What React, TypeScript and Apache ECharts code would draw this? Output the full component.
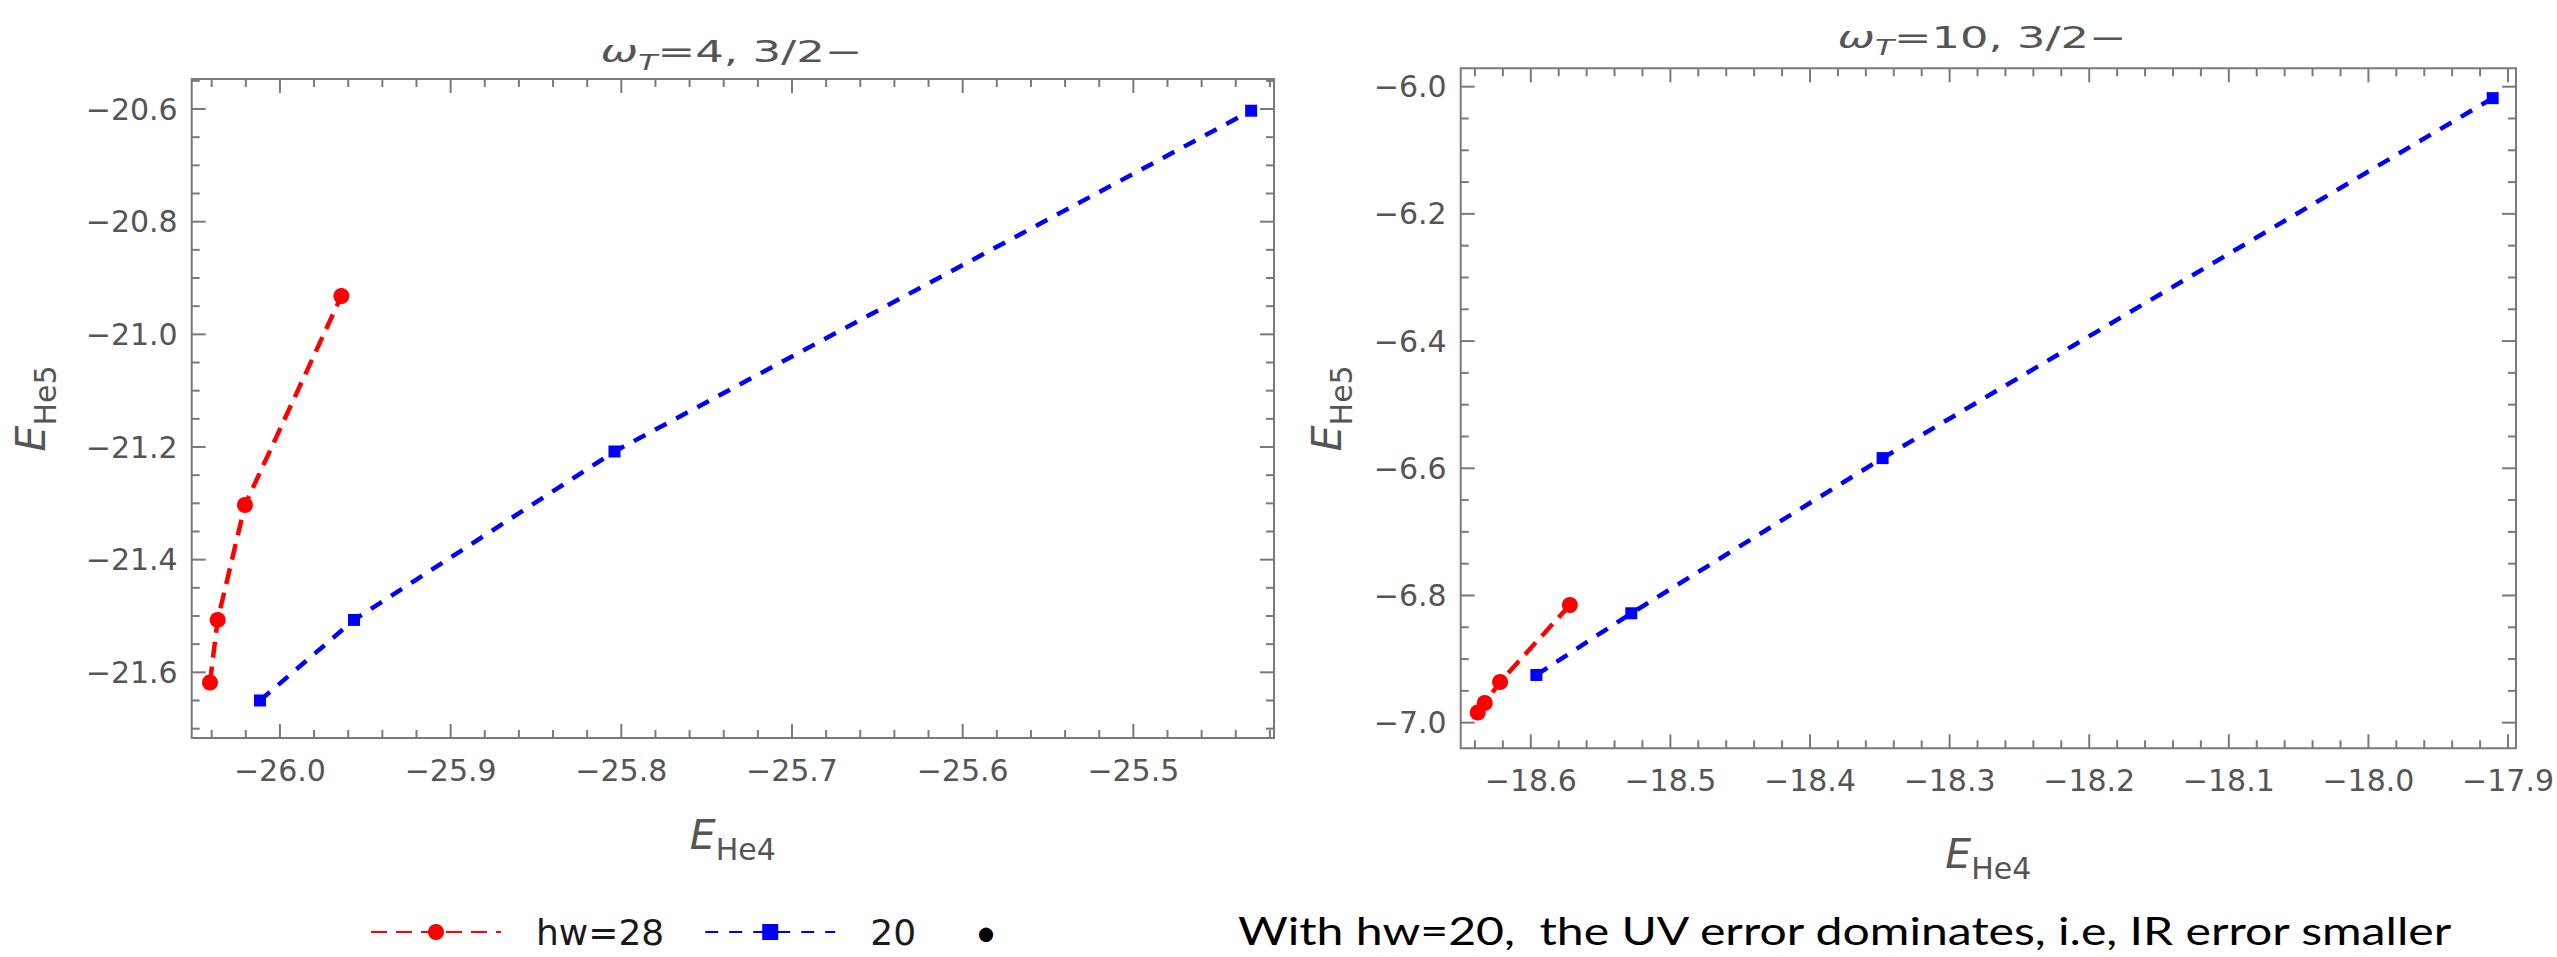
import React, { useEffect, useRef } from "react";
import * as echarts from "echarts";

// ---------------- data ----------------
const leftRedX = [-26.041, -26.0365, -26.0205, -25.964];
const leftRedY = [-21.618, -21.507, -21.303, -20.932];
const leftBlueX = [-26.0117, -25.9566, -25.804, -25.431];
const leftBlueY = [-21.65, -21.507, -21.208, -20.603];

const rightRedX = [-18.638, -18.633, -18.622, -18.572];
const rightRedY = [-6.984, -6.969, -6.936, -6.815];
const rightBlueX = [-18.596, -18.528, -18.348, -17.911];
const rightBlueY = [-6.925, -6.828, -6.584, -6.018];

const leftXTicks = [-26.0, -25.9, -25.8, -25.7, -25.6, -25.5];
const leftYTicks = [-21.6, -21.4, -21.2, -21.0, -20.8, -20.6];
const rightXTicks = [-18.6, -18.5, -18.4, -18.3, -18.2, -18.1, -18.0, -17.9];
const rightYTicks = [-7.0, -6.8, -6.6, -6.4, -6.2, -6.0];

const leftXRange = [-26.0517, -25.4176];
const leftYRange = [-21.7166, -20.5467];
const rightXRange = [-18.6502, -17.8943];
const rightYRange = [-7.0403, -5.9711];

const seriesNames = ["hw=28", "20"];
const panelOmegas = ["4", "10"];
const stateLabel = "3/2−";
const bulletText = "With hw=20,  the UV error dominates, i.e, IR error smaller";

// ---------------- style / layout ----------------
const W = 2557;
const H = 957;
const FONT = "DejaVu Sans";
const GRAY = "#555555";
const FRAME = "#7a7a7a";
const RED = "#ff0000";
const BLUE = "#0000ff";

const grids = [
  { left: 191.7, top: 79, width: 1082.3, height: 659 },
  { left: 1460.7, top: 68.3, width: 1055.3, height: 680 },
];

function zip(xs: number[], ys: number[]) {
  return xs.map((x, i) => [x, ys[i]]);
}

function minorTicks(range: number[], step: number, majors: number[]) {
  const out: number[] = [];
  const start = Math.ceil(range[0] / step - 1e-9);
  for (let k = start; k * step <= range[1] + 1e-9; k++) {
    const v = +(k * step).toFixed(4);
    if (!majors.some((m) => Math.abs(m - v) < 1e-6)) out.push(v);
  }
  return out;
}

const fmt = (v: number) => (v < 0 ? "−" : "") + Math.abs(v).toFixed(1);

function textWidth(text: string, font: string) {
  const c = document.createElement("canvas").getContext("2d");
  if (!c) return text.length * 10;
  c.font = font;
  return c.measureText(text).width;
}

const nameRich = {
  e: { fontFamily: FONT, fontStyle: "italic", fontSize: 41, color: GRAY, verticalAlign: "top" },
  s: { fontFamily: FONT, fontSize: 30, color: GRAY, padding: [20, 0, 0, 0] },
};

function xAxisFor(gridIndex: number, range: number[], majors: number[], nameGap: number) {
  return {
    type: "value",
    gridIndex,
    min: range[0],
    max: range[1],
    position: "bottom",
    splitLine: { show: false },
    axisLine: { show: false, onZero: false },
    axisTick: { show: false },
    axisLabel: {
      show: true,
      customValues: majors,
      formatter: fmt,
      fontFamily: FONT,
      fontSize: 30,
      color: GRAY,
      margin: 17,
    },
    name: "{e|E}{s|He4}",
    nameLocation: "middle",
    nameGap,
    nameTextStyle: { rich: nameRich },
  };
}

function yAxisFor(gridIndex: number, range: number[], majors: number[], nameGap: number) {
  return {
    type: "value",
    gridIndex,
    min: range[0],
    max: range[1],
    position: "left",
    splitLine: { show: false },
    axisLine: { show: false, onZero: false },
    axisTick: { show: false },
    axisLabel: {
      show: true,
      customValues: majors,
      formatter: fmt,
      fontFamily: FONT,
      fontSize: 30,
      color: GRAY,
      margin: 14,
    },
    name: "{e|E}{s|He5}",
    nameLocation: "middle",
    nameGap,
    nameTextStyle: { rich: nameRich },
  };
}

// tick data items: [x, y, kind(0 major / 1 minor), dim(0 x / 1 y)]
function tickData(
  xRange: number[],
  yRange: number[],
  xMaj: number[],
  yMaj: number[],
  xStep: number,
  yStep: number
) {
  const d: number[][] = [];
  xMaj.forEach((v) => d.push([v, yRange[0], 0, 0]));
  minorTicks(xRange, xStep, xMaj).forEach((v) => d.push([v, yRange[0], 1, 0]));
  yMaj.forEach((v) => d.push([xRange[0], v, 0, 1]));
  minorTicks(yRange, yStep, yMaj).forEach((v) => d.push([xRange[0], v, 1, 1]));
  return d;
}

function tickSeries(idx: number, data: number[][]) {
  return {
    type: "custom",
    xAxisIndex: idx,
    yAxisIndex: idx,
    silent: true,
    clip: false,
    z: 1,
    data,
    renderItem: (params: any, api: any) => {
      const cs = params.coordSys;
      const p = api.coord([api.value(0), api.value(1)]);
      const len = api.value(2) === 0 ? 14 : 8;
      const style = { stroke: FRAME, lineWidth: 2 };
      if (api.value(3) === 0) {
        const b = cs.y + cs.height;
        return {
          type: "group",
          children: [
            { type: "line", shape: { x1: p[0], y1: b, x2: p[0], y2: b - len }, style },
            { type: "line", shape: { x1: p[0], y1: cs.y, x2: p[0], y2: cs.y + len }, style },
          ],
        };
      }
      const r = cs.x + cs.width;
      return {
        type: "group",
        children: [
          { type: "line", shape: { x1: cs.x, y1: p[1], x2: cs.x + len, y2: p[1] }, style },
          { type: "line", shape: { x1: r, y1: p[1], x2: r - len, y2: p[1] }, style },
        ],
      };
    },
  };
}

function makeSeries(name: string, color: string, idx: number, data: number[][], square: boolean) {
  return {
    type: "line",
    name,
    xAxisIndex: idx,
    yAxisIndex: idx,
    data,
    symbol: square ? "rect" : "circle",
    symbolSize: square ? 12 : 16,
    showSymbol: true,
    itemStyle: { color },
    lineStyle: { color, width: 4.5, type: square ? [13, 11] : [16, 9] },
    z: square ? 4 : 3,
  };
}

function titleGraphic(omega: string, cx: number, top: number, target: number) {
  const wMain =
    textWidth("ω", `italic 30px "${FONT}"`) +
    textWidth("T", `italic 21px "${FONT}"`) +
    textWidth(`=${omega}, ${stateLabel}`, `30px "${FONT}"`);
  return {
    type: "text",
    x: cx,
    y: top,
    scaleX: target / wMain,
    style: {
      text: `{w|ω}{t|T}{n|=${omega}, ${stateLabel}}`,
      align: "center",
      verticalAlign: "top",
      rich: {
        w: { fontFamily: FONT, fontStyle: "italic", fontSize: 30, fill: GRAY, verticalAlign: "top" },
        t: { fontFamily: FONT, fontStyle: "italic", fontSize: 21, fill: GRAY, padding: [15, 0, 0, 0] },
        n: { fontFamily: FONT, fontSize: 30, fill: GRAY, verticalAlign: "top" },
      },
    },
  };
}

export default function App() {
  const ref = useRef<HTMLDivElement>(null);

  useEffect(() => {
    if (!ref.current) return;
    const chart = echarts.init(ref.current, null, { renderer: "svg" });

    const bulletFont = `38px Lato`;
    const bw = textWidth(bulletText, bulletFont);
    const bulletScale = 1217 / bw;

    const option = {
      animation: false,
      backgroundColor: "#ffffff",
      grid: grids.map((g) => ({
        ...g,
        show: true,
        borderColor: FRAME,
        borderWidth: 2,
        backgroundColor: "transparent",
        containLabel: false,
      })),
      xAxis: [
        xAxisFor(0, leftXRange, leftXTicks, 76),
        xAxisFor(1, rightXRange, rightXTicks, 85),
      ],
      yAxis: [
        yAxisFor(0, leftYRange, leftYTicks, 131),
        yAxisFor(1, rightYRange, rightYTicks, 104),
      ],
      legend: {
        data: seriesNames,
        left: 365,
        top: 909,
        padding: 5,
        itemWidth: 130,
        itemHeight: 20,
        itemGap: 40,
        textStyle: {
          fontFamily: FONT,
          fontSize: 36,
          lineHeight: 34,
          color: "#1a1a1a",
          padding: [0, 0, 0, 30],
        },
        selectedMode: false,
      },
      series: [
        tickSeries(0, tickData(leftXRange, leftYRange, leftXTicks, leftYTicks, 0.02, 0.05)),
        tickSeries(1, tickData(rightXRange, rightYRange, rightXTicks, rightYTicks, 0.02, 0.05)),
        makeSeries(seriesNames[0], RED, 0, zip(leftRedX, leftRedY), false),
        makeSeries(seriesNames[1], BLUE, 0, zip(leftBlueX, leftBlueY), true),
        makeSeries(seriesNames[0], RED, 1, zip(rightRedX, rightRedY), false),
        makeSeries(seriesNames[1], BLUE, 1, zip(rightBlueX, rightBlueY), true),
      ],
      graphic: [
        titleGraphic(panelOmegas[0], 731.5, 37, 262),
        titleGraphic(panelOmegas[1], 1982, 22.5, 289),
        {
          type: "text",
          x: 986,
          y: 931,
          style: {
            text: "•",
            font: bulletFont,
            fill: "#000000",
            align: "center",
            verticalAlign: "middle",
          },
        },
        {
          type: "text",
          x: 1238,
          y: 930,
          scaleX: bulletScale,
          style: {
            text: bulletText,
            font: bulletFont,
            fill: "#000000",
            align: "left",
            verticalAlign: "middle",
          },
        },
      ],
    };

    chart.setOption(option as any);
    return () => chart.dispose();
  }, []);

  return (
    <div
      ref={ref}
      style={{ position: "fixed", left: 0, top: 0, width: W, height: H, background: "#fff" }}
    />
  );
}
